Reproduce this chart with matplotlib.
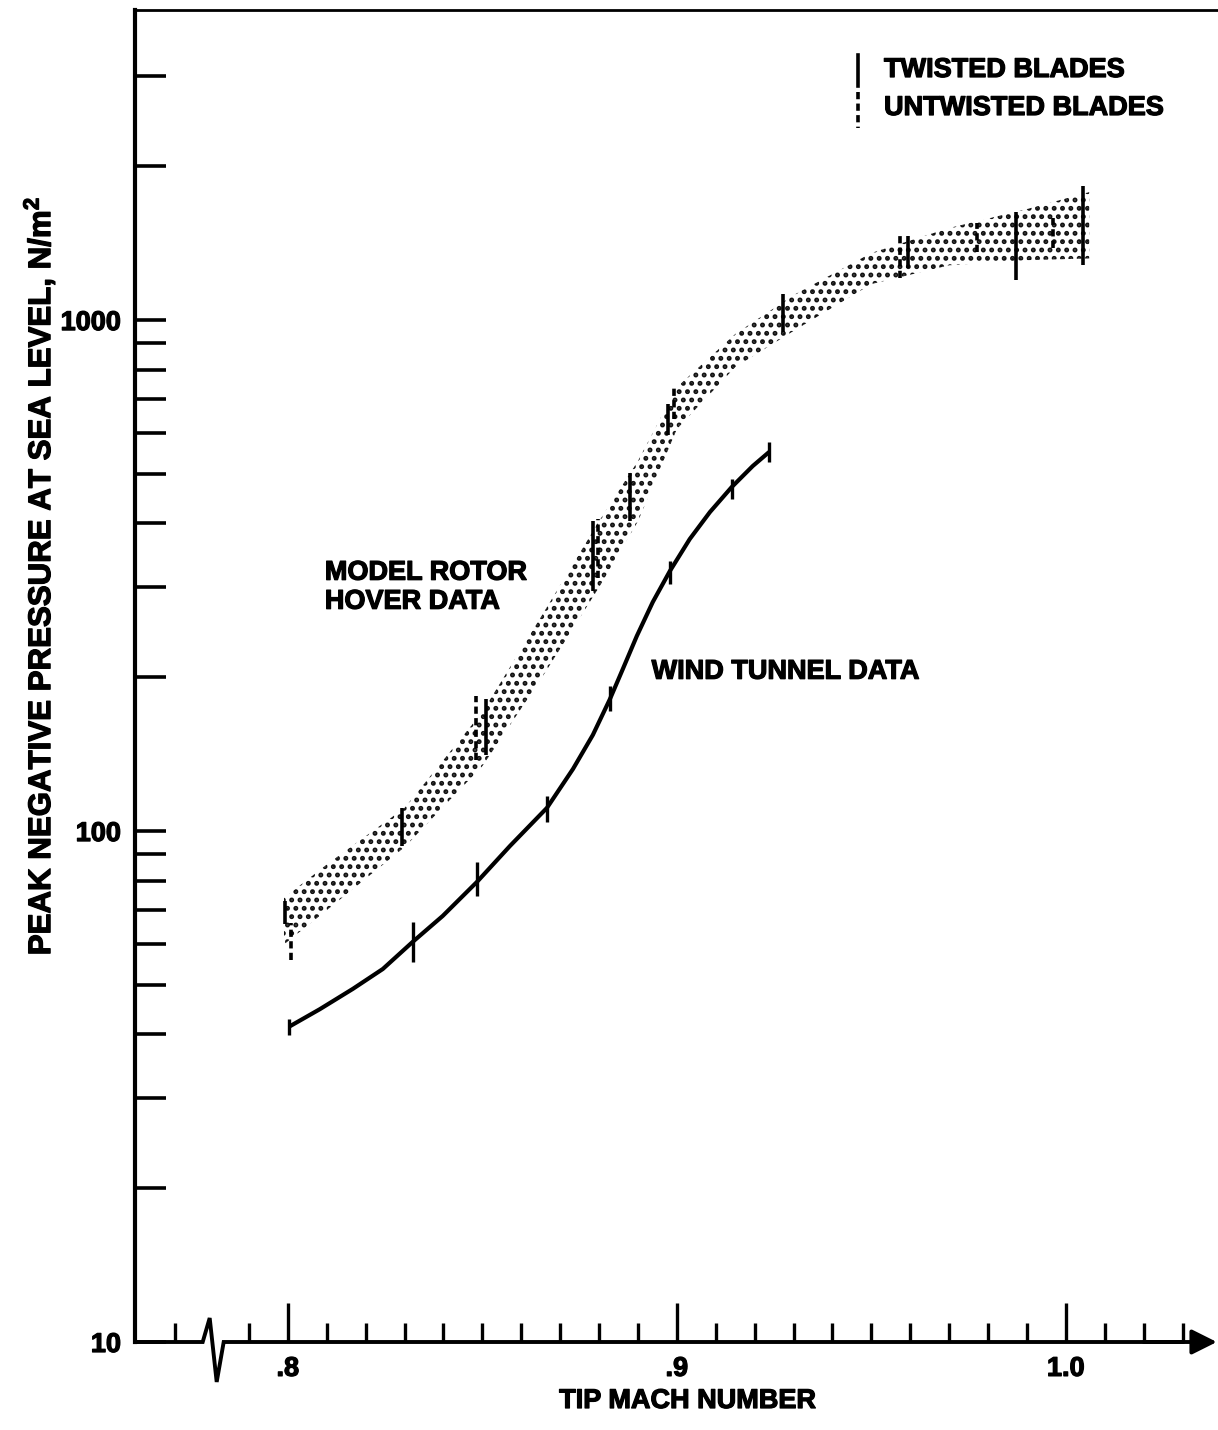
import numpy as np
import matplotlib
matplotlib.use('Agg')
import matplotlib.pyplot as plt
import matplotlib.patheffects as pe

plt.rcParams['font.family'] = ['Liberation Sans', 'DejaVu Sans']
plt.rcParams['font.weight'] = 'bold'
plt.rcParams['mathtext.fontset'] = 'custom'
plt.rcParams['mathtext.rm'] = 'Liberation Sans:bold'
plt.rcParams['mathtext.it'] = 'Liberation Sans:bold'
plt.rcParams['mathtext.bf'] = 'Liberation Sans:bold'
plt.rcParams['hatch.linewidth'] = 2.3

# Model rotor hover data - shaded band edges
band_mach = [0.799, 0.810, 0.830, 0.850, 0.865, 0.880, 0.890, 0.900, 0.915, 0.930, 0.950, 0.970, 0.990, 1.006]
band_hi = [74, 86, 111, 171, 262, 404, 530, 739, 939, 1119, 1353, 1514, 1649, 1780]
band_lo = [60, 70, 93, 134, 198, 300, 404, 612, 809, 952, 1176, 1280, 1310, 1320]

# twisted blades (solid bars)
tw_mach = [0.7992, 0.8293, 0.8509, 0.8784, 0.8879, 0.8977, 0.9272, 0.9594, 0.9871, 1.0044]
tw_lo = [65.8, 93.5, 141, 295, 404, 596, 948, 1264, 1197, 1282]
tw_hi = [73, 111, 181, 404, 502, 685, 1124, 1459, 1626, 1829]

# untwisted blades (dashed bars)
ut_mach = [0.8008, 0.8483, 0.8797, 0.8992, 0.9573, 0.9771, 0.9967]
ut_lo = [56, 138, 313, 640, 1208, 1359, 1383]
ut_hi = [66, 184, 408, 740, 1459, 1549, 1583]

# wind tunnel data curve
wt_mach = [0.8003, 0.8082, 0.8167, 0.8244, 0.8321, 0.8398, 0.8486, 0.8571, 0.8666,
           0.8733, 0.8784, 0.8828, 0.8861, 0.8897, 0.8938, 0.8982, 0.9033, 0.9085,
           0.9141, 0.9195, 0.9237]
wt_val = [41.4, 44.8, 49.1, 53.7, 60.7, 68.2, 79.5, 93.5, 111.0,
          132.3, 154.2, 181.3, 207.5, 240.8, 280.6, 322.7, 372.7, 421.0,
          471.2, 518.0, 551.7]

# wind tunnel data bars
wtb_mach = [0.8003, 0.8321, 0.8486, 0.8666, 0.8828, 0.8982, 0.9141, 0.9237]
wtb_lo = [39.9, 55.4, 74.6, 104, 172, 304, 446, 528]
wtb_hi = [42.9, 66.4, 86.9, 117, 192, 338, 488, 577]

xmajor = [0.8, 0.9, 1.0]
xmajor_labels = ['.8', '.9', '1.0']
xminor = [0.771, 0.79] + [round(0.80 + 0.01 * i, 2) for i in range(1, 24) if i % 10 != 0]
ymajor = [10, 100, 1000]
ymajor_labels = ['10', '100', '1000']
yminor = [20, 30, 40, 50, 60, 70, 80, 90, 200, 300, 400, 500, 600, 700, 800, 900, 2000, 3000]

heavy = [pe.withStroke(linewidth=0.9, foreground='black')]

fig = plt.figure(figsize=(12.18, 14.30), dpi=100)
ax = fig.add_axes([135 / 1218, 88 / 1430, 1083 / 1218, 1332 / 1430])
ax.set_yscale('log')
ax.set_xlim(0.7607, 1.0391)
ax.set_ylim(10, 4044)

# stippled band
ax.fill_between(band_mach, band_lo, band_hi, facecolor='none', edgecolor='#111111',
                hatch='..', linewidth=0)

# hover data bars
ax.vlines(tw_mach, tw_lo, tw_hi, colors='black', linewidth=2.6)
ax.vlines(ut_mach, ut_lo, ut_hi, colors='black', linewidth=2.6, linestyles=(0, (2.0, 1.2)))

# wind tunnel curve
ax.plot(wt_mach, wt_val, color='black', linewidth=3.0, solid_capstyle='butt',
        solid_joinstyle='round')
ax.vlines(wtb_mach, wtb_lo, wtb_hi, colors='black', linewidth=2.4)

# spines
ax.spines['right'].set_visible(False)
ax.spines['bottom'].set_visible(False)
ax.spines['left'].set_linewidth(3.0)
ax.spines['top'].set_linewidth(2.0)

# bottom axis with break and arrow
xt = ax.get_xaxis_transform()
ax.plot([0.7607, 0.7781, 0.7799, 0.7817, 0.7835, 1.03], [0, 0, 0.018, -0.030, 0, 0],
        transform=xt, color='black', linewidth=2.8, clip_on=False, solid_joinstyle='miter')
ax.annotate('', xy=(1.0388, 0), xytext=(1.02, 0), xycoords=xt, textcoords=xt,
            arrowprops=dict(arrowstyle='-|>', color='black', lw=2.8, mutation_scale=38,
                            shrinkA=0, shrinkB=0), annotation_clip=False)

ax.set_xticks(xmajor)
ax.set_xticklabels(xmajor_labels)
ax.set_xticks(xminor, minor=True)
ax.tick_params(axis='x', which='major', direction='in', length=28, width=2.4, pad=10,
               labelsize=19.5)
ax.tick_params(axis='x', which='minor', direction='in', length=14, width=2.4)

ax.set_yticks(ymajor)
ax.set_yticklabels(ymajor_labels)
ax.set_yticks(yminor, minor=True)
ax.set_yticklabels([], minor=True)
ax.tick_params(axis='y', which='major', direction='in', length=22, width=2.6, pad=10,
               labelsize=19.5)
ax.tick_params(axis='y', which='minor', direction='in', length=22, width=2.6)
for lab in ax.get_xticklabels() + ax.get_yticklabels():
    lab.set_fontweight('bold')
    lab.set_path_effects(heavy)

# labels
fig.text(688 / 1218, 1 - 1401 / 1430, 'TIP MACH NUMBER', ha='center', va='center',
         fontsize=19.5, fontweight='bold', path_effects=heavy)
fig.text(39 / 1218, 1 - 576 / 1430, 'PEAK NEGATIVE PRESSURE AT SEA LEVEL, N/m$^2$',
         rotation=90, ha='center', va='center', fontsize=22.5, fontweight='bold',
         path_effects=heavy)

ax.text(0.8095, 300, 'MODEL ROTOR\nHOVER DATA', ha='left', va='center', fontsize=19.5,
        fontweight='bold', linespacing=1.15, path_effects=heavy)
ax.text(0.8935, 205, 'WIND TUNNEL DATA', ha='left', va='center', fontsize=19.5,
        fontweight='bold', path_effects=heavy)

# legend
at = ax.transAxes
ax.plot([(858 - 135) / 1083] * 2, [1 - (55 - 10) / 1332, 1 - (86 - 10) / 1332], transform=at,
        color='black', linewidth=2.6)
ax.plot([(858 - 135) / 1083] * 2, [1 - (92 - 10) / 1332, 1 - (128 - 10) / 1332], transform=at,
        color='black', linewidth=2.6, linestyle=(0, (2.0, 1.2)))
ax.text((884 - 135) / 1083, 1 - (70 - 10) / 1332, 'TWISTED BLADES', transform=at,
        ha='left', va='center', fontsize=19.5, fontweight='bold', path_effects=heavy)
ax.text((884 - 135) / 1083, 1 - (108 - 10) / 1332, 'UNTWISTED BLADES', transform=at,
        ha='left', va='center', fontsize=19.5, fontweight='bold', path_effects=heavy)

fig.savefig('out.png', dpi=100)
